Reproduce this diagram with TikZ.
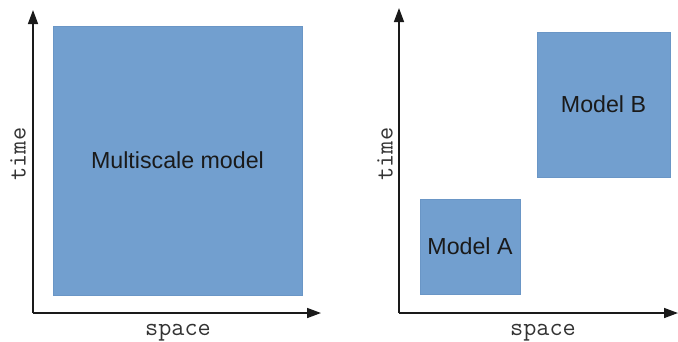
\documentclass[tikz,border=0pt]{standalone}
\usepackage{fontspec}
\setmainfont{Liberation Sans}
\usetikzlibrary{arrows.meta}
\definecolor{boxfill}{HTML}{729FCF}
\definecolor{boxedge}{HTML}{6A96C6}
\definecolor{axiscol}{HTML}{1A1A1A}
\definecolor{txtcol}{HTML}{1A1A1A}
\definecolor{labcol}{HTML}{333333}
\tikzset{
  modelbox/.style={draw=boxedge, line width=0.8pt, fill=boxfill, inner sep=0pt,
    text=txtcol, font=\fontsize{23.2}{27}\selectfont},
  axis/.style={draw=axiscol, line width=1.5pt, -{Triangle[length=14pt,width=10pt]}},
  axlabel/.style={text=labcol, inner sep=0pt, font=\ttfamily\fontsize{25.5}{28}\selectfont}
}
\begin{document}
\begin{tikzpicture}[x=1pt,y=-1pt]
\useasboundingbox (0,0) rectangle (678,341);
% left panel
\node[modelbox, minimum width=249pt, minimum height=269pt] (ms) at (177.5,160.5) {Multiscale model};
\coordinate (o1) at (33,313);
\coordinate (y1) at (33,10);
\coordinate (x1) at (321,313);
\draw[axis] (o1) -- (y1);
\draw[axis] (o1) -- (x1);
\node[axlabel, rotate=90] (t1) at (18,154) {time};
\node[axlabel] (s1) at (178,332.5) {space};
% right panel
\node[modelbox, minimum width=133pt, minimum height=145pt] (mb) at (603.5,104.5) {Model B};
\node[modelbox, minimum width=100pt, minimum height=95pt] (ma) at (470,246.5) {Model A};
\coordinate (o2) at (399,313);
\coordinate (y2) at (399,8);
\coordinate (x2) at (678,313);
\draw[axis] (o2) -- (y2);
\draw[axis] (o2) -- (x2);
\node[axlabel, rotate=90] (t2) at (385,154) {time};
\node[axlabel] (s2) at (543,332.5) {space};
\end{tikzpicture}
\end{document}
